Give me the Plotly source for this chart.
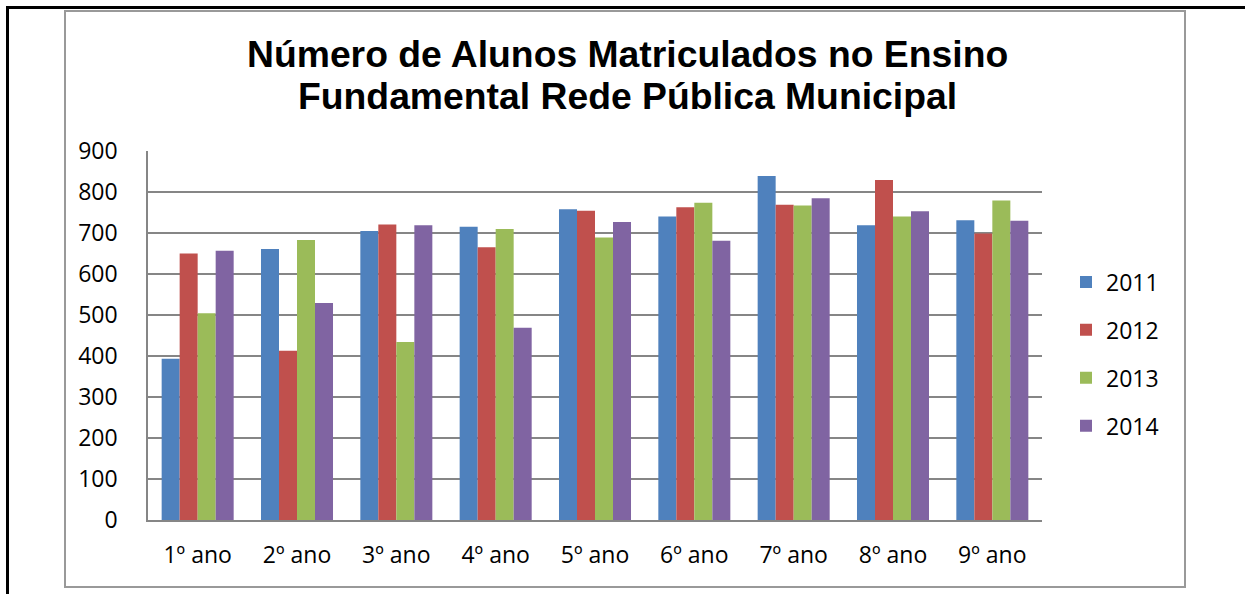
import plotly.graph_objects as go

categories = ["1º ano", "2º ano", "3º ano", "4º ano", "5º ano", "6º ano", "7º ano", "8º ano", "9º ano"]
years = ["2011", "2012", "2013", "2014"]
v2011 = [393, 661, 705, 715, 758, 740, 839, 719, 731]
v2012 = [650, 413, 721, 665, 754, 763, 769, 829, 699]
v2013 = [504, 683, 434, 710, 689, 774, 767, 740, 779]
v2014 = [657, 529, 719, 469, 727, 681, 785, 753, 730]
y_ticks = [0, 100, 200, 300, 400, 500, 600, 700, 800, 900]
title_lines = ["Número de Alunos Matriculados no Ensino", "Fundamental Rede Pública Municipal"]

series = [v2011, v2012, v2013, v2014]
colors = ["#4F81BD", "#C0504D", "#9BBB59", "#8064A2"]

W, H = 1245, 594
L, R, T, B = 148, 1042, 151, 520

fig = go.Figure()
for name, vals, col in zip(years, series, colors):
    fig.add_trace(go.Bar(
        x=categories, y=vals, name=name, legendgroup=name,
        marker=dict(color=col, line=dict(width=0)),
    ))

def px2x(px):
    return (px - L) / (R - L)

def px2y(py):
    return (B - py) / (B - T)

shapes = [
    # gray chart frame
    dict(type="rect", xref="paper", yref="paper",
         x0=px2x(65), x1=px2x(1185), y0=px2y(587), y1=px2y(11),
         line=dict(color="#999999", width=2), fillcolor="rgba(0,0,0,0)", layer="below"),
    # black page lines
    dict(type="line", xref="paper", yref="paper",
         x0=px2x(6), x1=px2x(1245), y0=px2y(7.5), y1=px2y(7.5),
         line=dict(color="black", width=3)),
    dict(type="line", xref="paper", yref="paper",
         x0=px2x(7.5), x1=px2x(7.5), y0=px2y(6), y1=px2y(594),
         line=dict(color="black", width=3)),
]

title_font = dict(family="Liberation Sans, Arial, sans-serif", size=37.3, color="black")
annotations = []
for line_text, cy in zip(title_lines, [54, 96]):
    annotations.append(dict(
        text="<b>" + line_text + "</b>", xref="paper", yref="paper",
        x=px2x(627), y=px2y(cy), xanchor="center", yanchor="middle",
        showarrow=False, font=title_font,
    ))

fig.update_layout(
    width=W, height=H,
    margin=dict(l=L, r=W - R, t=T, b=H - B, pad=0),
    paper_bgcolor="white", plot_bgcolor="white",
    barmode="group", bargap=0.275, bargroupgap=0,
    font=dict(family="Open Sans, sans-serif", size=23, color="black"),
    shapes=shapes,
    annotations=annotations,
    legend=dict(
        x=px2x(1066), xanchor="left", y=px2y(354), yanchor="middle",
        font=dict(size=23), tracegroupgap=15, bgcolor="rgba(0,0,0,0)",
        traceorder="grouped",
    ),
    xaxis=dict(
        showgrid=False, showline=True, linecolor="#868686", linewidth=1.5,
        ticks="", tickfont=dict(size=23), ticklabelstandoff=14,
    ),
    yaxis=dict(
        range=[0, 900], tickvals=y_ticks, showgrid=True, gridcolor="#868686",
        gridwidth=1.5, showline=True, linecolor="#868686", linewidth=1.5,
        zeroline=False, ticks="", tickfont=dict(size=23), ticklabelstandoff=24,
    ),
)

fig.write_html("out.html", config={"displayModeBar": False},
               post_script="document.body.style.margin='0';")
